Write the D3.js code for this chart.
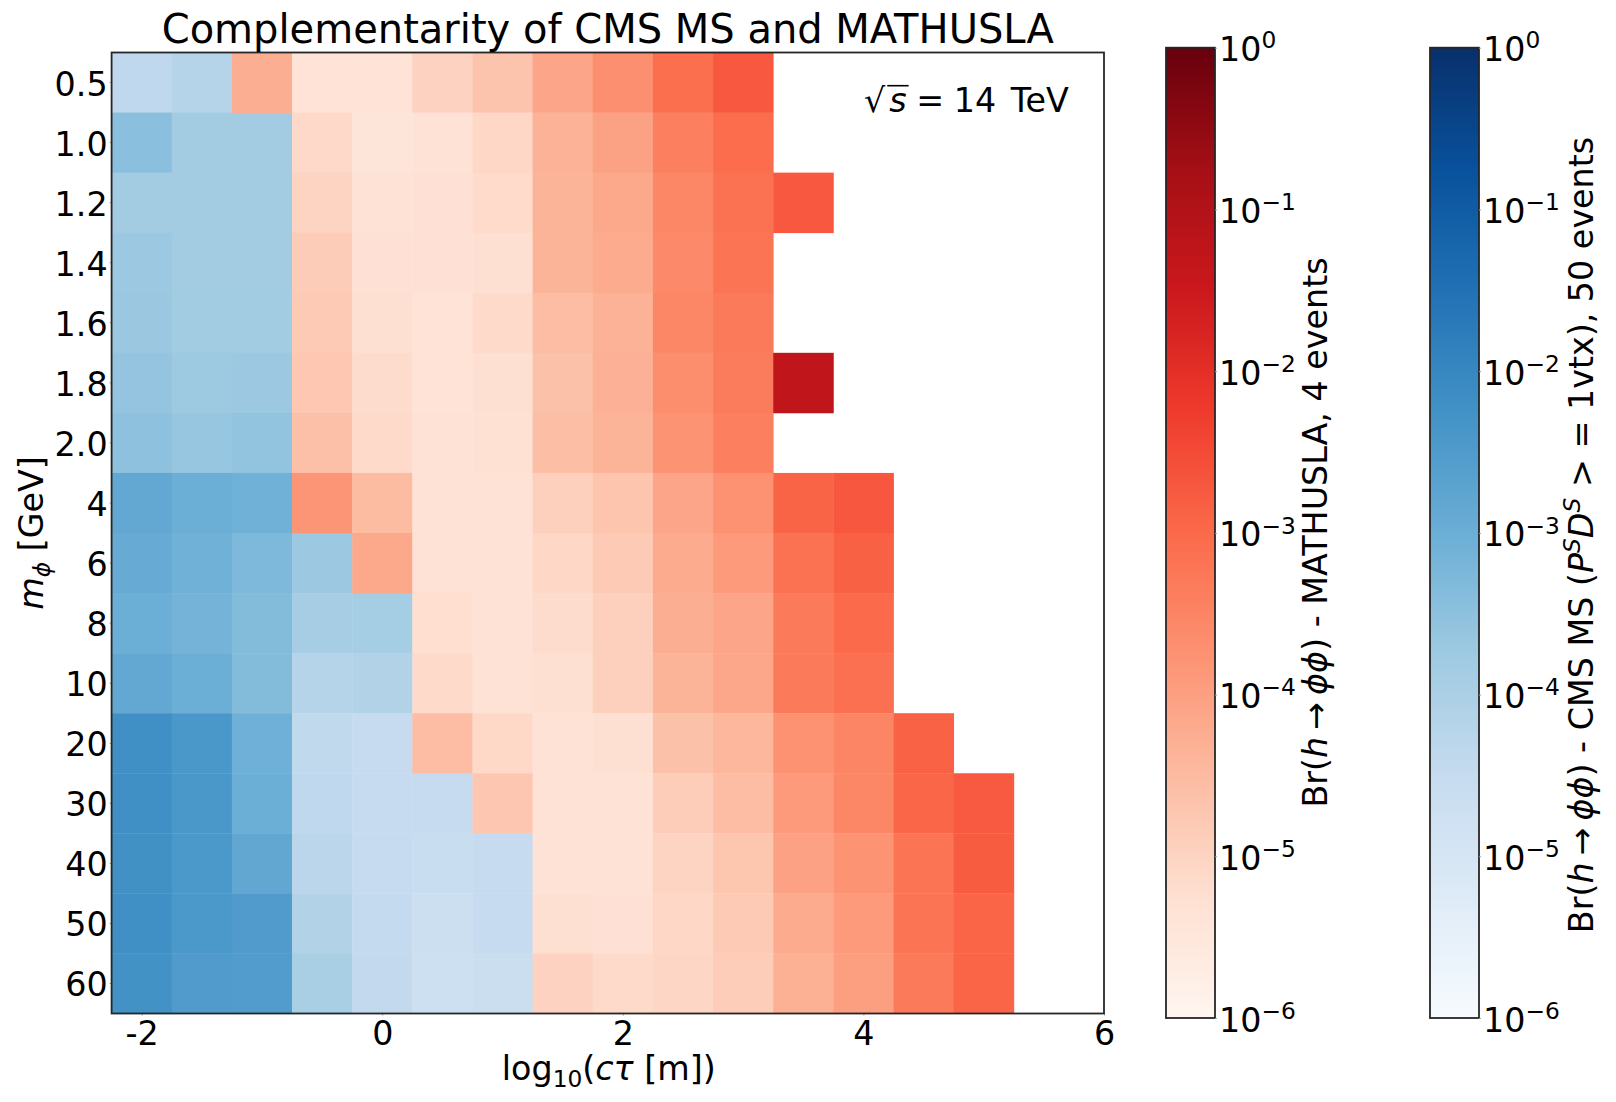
<!DOCTYPE html>
<html>
<head>
<meta charset="utf-8">
<script src="https://cdn.jsdelivr.net/npm/d3@7"></script>
<style>
  html, body { margin: 0; padding: 0; background: #fff; }
  text { font-family: "DejaVu Sans"; fill: #000; }
</style>
</head>
<body>
<div id="chart"></div>
<script>
// log10(c tau [m]) of each column
const ctauValues = [-2, -1.5, -1, -0.5, 0, 0.5, 1, 1.5, 2, 2.5, 3, 3.5, 4, 4.5, 5];
const massLabels = ['0.5','1.0','1.2','1.4','1.6','1.8','2.0','4','6','8','10','20','30','40','50','60'];
const xTickValues = [-2, 0, 2, 4, 6];
const colorbarExponents = [0, -1, -2, -3, -4, -5, -6];

// log10(Br), _ = cell not filled by this series
const _ = null;
const cmsExp = [
  [-4.38,-4.2,_,_,_,_,_,_,_,_,_,_,_,_,_],
  [-3.45,-3.85,-3.85,_,_,_,_,_,_,_,_,_,_,_,_],
  [-3.85,-3.85,-3.85,_,_,_,_,_,_,_,_,_,_,_,_],
  [-3.72,-3.85,-3.85,_,_,_,_,_,_,_,_,_,_,_,_],
  [-3.7,-3.82,-3.82,_,_,_,_,_,_,_,_,_,_,_,_],
  [-3.6,-3.75,-3.72,_,_,_,_,_,_,_,_,_,_,_,_],
  [-3.5,-3.65,-3.58,_,_,_,_,_,_,_,_,_,_,_,_],
  [-2.85,-3.0,-3.08,_,_,_,_,_,_,_,_,_,_,_,_],
  [-2.93,-3.08,-3.28,-3.72,_,_,_,_,_,_,_,_,_,_,_],
  [-3.0,-3.15,-3.35,-3.9,-3.88,_,_,_,_,_,_,_,_,_,_],
  [-2.85,-3.0,-3.35,-4.2,-4.12,_,_,_,_,_,_,_,_,_,_],
  [-2.2,-2.4,-3.05,-4.4,-4.5,_,_,_,_,_,_,_,_,_,_],
  [-2.2,-2.4,-3.0,-4.38,-4.5,-4.5,_,_,_,_,_,_,_,_,_],
  [-2.22,-2.42,-2.82,-4.3,-4.5,-4.6,-4.5,_,_,_,_,_,_,_,_],
  [-2.2,-2.42,-2.5,-4.12,-4.47,-4.7,-4.5,_,_,_,_,_,_,_,_],
  [-2.25,-2.5,-2.52,-3.95,-4.45,-4.72,-4.62,_,_,_,_,_,_,_,_]
];
const mathuslaExp = [
  [_,_,-4.26,-5.36,-5.36,-4.97,-4.68,-4.1,-3.7,-3.1,-2.72,_,_,_,_],
  [_,_,_,-5.11,-5.43,-5.32,-5.07,-4.34,-4.04,-3.4,-3.05,_,_,_,_],
  [_,_,_,-5.0,-5.32,-5.3,-5.15,-4.38,-4.15,-3.55,-3.15,-2.72,_,_,_],
  [_,_,_,-4.85,-5.3,-5.3,-5.25,-4.38,-4.2,-3.58,-3.2,_,_,_,_],
  [_,_,_,-4.8,-5.25,-5.35,-5.12,-4.55,-4.33,-3.55,-3.3,_,_,_,_],
  [_,_,_,-4.75,-5.17,-5.35,-5.25,-4.62,-4.32,-3.68,-3.33,-1.28,_,_,_],
  [_,_,_,-4.6,-5.12,-5.32,-5.27,-4.58,-4.38,-3.76,-3.4,_,_,_,_],
  [_,_,_,-3.8,-4.52,-5.32,-5.33,-4.93,-4.7,-4.1,-3.75,-2.9,-2.7,_,_],
  [_,_,_,_,-4.15,-5.32,-5.33,-5.07,-4.8,-4.2,-3.9,-3.15,-2.85,_,_],
  [_,_,_,_,_,-5.22,-5.33,-5.17,-4.93,-4.27,-4.1,-3.3,-3.0,_,_],
  [_,_,_,_,_,-5.13,-5.33,-5.25,-4.93,-4.38,-4.13,-3.3,-3.12,_,_],
  [_,_,_,_,_,-4.55,-5.1,-5.33,-5.25,-4.63,-4.42,-3.75,-3.5,-2.88,_],
  [_,_,_,_,_,_,-4.73,-5.33,-5.33,-4.87,-4.55,-3.9,-3.55,-2.95,-2.75],
  [_,_,_,_,_,_,_,-5.33,-5.33,-5.0,-4.72,-4.03,-3.76,-3.2,-2.78],
  [_,_,_,_,_,_,_,-5.25,-5.3,-5.07,-4.8,-4.2,-3.9,-3.2,-2.92],
  [_,_,_,_,_,_,_,-4.97,-5.13,-5.05,-4.87,-4.3,-3.97,-3.3,-2.92]
];

const redStops = ['#fff5f0','#fee0d2','#fcbba1','#fc9272','#fb6a4a','#ef3b2c','#cb181d','#a50f15','#67000d'];
const blueStops = ['#f7fbff','#deebf7','#c6dbef','#9ecae1','#6baed6','#4292c6','#2171b5','#08519c','#08306b'];

const width = 1616;
const height = 1102;
const plot = { left: 111.6, right: 1104, top: 52.5, bottom: 1013.5 };
const frameColour = '#262626';
const fontSize = 33.33;
const smallSize = 23.3;

const svg = d3.select('#chart').append('svg')
  .attr('width', width)
  .attr('height', height)
  .style('display', 'block');

const x = d3.scaleLinear().domain([-2.25, 6]).range([plot.left, plot.right]);
const y = d3.scaleBand().domain(massLabels).range([plot.top, plot.bottom]);

// colour runs evenly over the exponents -6..0, like a log norm
function colourScale(stops) {
  return d3.scaleLinear()
    .domain(stops.map((d, i) => -6 + 6 * i / (stops.length - 1)))
    .range(stops);
}
const blues = colourScale(blueStops);
const reds = colourScale(redStops);

function drawCells(matrix, colour) {
  const cells = [];
  matrix.forEach((row, r) => row.forEach((v, c) => {
    if (v !== null) cells.push({ mass: massLabels[r], ctau: ctauValues[c], value: v });
  }));
  svg.append('g').selectAll('rect')
    .data(cells)
    .enter()
    .append('rect')
    .attr('x', d => x(d.ctau - 0.25))
    .attr('y', d => y(d.mass))
    .attr('width', d => x(d.ctau + 0.25) - x(d.ctau - 0.25) + 0.4)
    .attr('height', y.bandwidth() + 0.4)
    .attr('fill', d => colour(d.value));
}
drawCells(cmsExp, blues);
drawCells(mathuslaExp, reds);

// axes
function styleAxis(g) {
  g.select('.domain').remove();
  g.selectAll('.tick line').attr('stroke', '#a0a0a0').attr('stroke-width', 1);
  g.selectAll('.tick text')
    .style('font-family', '"DejaVu Sans"')
    .style('font-size', fontSize + 'px')
    .attr('fill', '#000');
}

svg.append('g')
  .attr('transform', `translate(0,${plot.bottom})`)
  .call(d3.axisBottom(x).tickValues(xTickValues).tickFormat(d => String(d)).tickSize(2).tickPadding(6))
  .call(styleAxis);

svg.append('g')
  .attr('transform', `translate(${plot.left},0)`)
  .call(d3.axisLeft(y).tickSize(2).tickPadding(2))
  .call(styleAxis)
  .call(g => g.selectAll('.tick text').attr('dy', '0.39em'));

svg.append('rect')
  .attr('x', plot.left)
  .attr('y', plot.top)
  .attr('width', plot.right - plot.left)
  .attr('height', plot.bottom - plot.top)
  .attr('fill', 'none')
  .attr('stroke', frameColour)
  .attr('stroke-width', 1.8);

// title and axis labels
svg.append('text')
  .attr('x', (plot.left + plot.right) / 2)
  .attr('y', 42.5)
  .attr('text-anchor', 'middle')
  .style('font-size', '40px')
  .text('Complementarity of CMS MS and MATHUSLA');

const xLabel = svg.append('text')
  .attr('x', (plot.left + plot.right) / 2 + 1)
  .attr('y', 1079.8)
  .attr('text-anchor', 'middle')
  .style('font-size', fontSize + 'px');
xLabel.append('tspan').text('log');
xLabel.append('tspan').attr('dy', 7).style('font-size', smallSize + 'px').text('10');
xLabel.append('tspan').attr('dy', -7).text('(');
xLabel.append('tspan').style('font-style', 'italic').text('c\u03c4');
xLabel.append('tspan').text(' [m])');

const yLabel = svg.append('text')
  .attr('transform', `translate(43,${(plot.top + plot.bottom) / 2}) rotate(-90)`)
  .attr('text-anchor', 'middle')
  .style('font-size', fontSize + 'px');
yLabel.append('tspan').style('font-style', 'italic').text('m');
yLabel.append('tspan').attr('dy', 7).style('font-size', smallSize + 'px').style('font-style', 'italic').text('\u03d5');
yLabel.append('tspan').attr('dy', -7).text(' [GeV]');

// sqrt(s) note, the bar over the s is placed from the measured text
const note = svg.append('text')
  .attr('x', 864)
  .attr('y', 111.7)
  .style('font-size', fontSize + 'px');
note.append('tspan').text('\u221a');
note.append('tspan').attr('dx', 4).style('font-style', 'italic').text('s');
note.append('tspan').attr('dx', -1).text(' = ');
note.append('tspan').attr('dx', -1).text('14 ');
note.append('tspan').attr('dx', 4).text('TeV');
const noteNode = note.node();
svg.append('line')
  .attr('x1', noteNode.getStartPositionOfChar(1).x - 2)
  .attr('x2', noteNode.getEndPositionOfChar(1).x + 2)
  .attr('y1', 85.7)
  .attr('y2', 85.7)
  .attr('stroke', '#000')
  .attr('stroke-width', 1.6);

// colourbars
const defs = svg.append('defs');

function drawColourbar(barX, barWidth, colour, id, labelX, labelY, labelParts) {
  const top = 47.7;
  const bottom = 1018;
  const scale = d3.scaleLog().domain([1e-6, 1]).range([bottom, top]);

  const gradient = defs.append('linearGradient')
    .attr('id', id)
    .attr('x1', 0).attr('x2', 0).attr('y1', 1).attr('y2', 0);
  colour.domain().forEach(v => {
    gradient.append('stop')
      .attr('offset', (v + 6) / 6)
      .attr('stop-color', colour(v));
  });

  svg.append('rect')
    .attr('x', barX)
    .attr('y', top)
    .attr('width', barWidth)
    .attr('height', bottom - top)
    .attr('fill', `url(#${id})`)
    .attr('stroke', frameColour)
    .attr('stroke-width', 1.8);

  const axis = svg.append('g')
    .attr('transform', `translate(${barX + barWidth},0)`)
    .call(d3.axisRight(scale)
      .tickValues(colorbarExponents.map(e => Math.pow(10, e)))
      .tickFormat(() => '10')
      .tickSize(2)
      .tickPadding(2))
    .call(styleAxis);

  axis.selectAll('.tick text')
    .attr('dy', '0.39em')
    .each(function(d) {
      const exponent = Math.round(Math.log10(d));
      d3.select(this).append('tspan')
        .attr('dy', -12.8)
        .style('font-size', smallSize + 'px')
        .text(exponent === 0 ? '0' : '\u2212' + Math.abs(exponent));
    });

  const label = svg.append('text')
    .attr('transform', `translate(${labelX},${labelY}) rotate(-90)`)
    .attr('text-anchor', 'middle')
    .style('font-size', fontSize + 'px');
  label.append('tspan').text('Br(');
  label.append('tspan').style('font-style', 'italic').text('h');
  label.append('tspan').attr('dx', 7).text('\u2192');
  label.append('tspan').attr('dx', 7).style('font-style', 'italic').text('\u03d5\u03d5');
  labelParts.forEach(p => {
    const t = label.append('tspan').text(p.text);
    if (p.italic) t.style('font-style', 'italic');
    if (p.sup) t.attr('dy', -12.8).style('font-size', smallSize + 'px');
    if (p.down) t.attr('dy', 12.8);
    if (p.dx) t.attr('dx', p.dx);
  });
}

drawColourbar(1166, 49, reds, 'redbar', 1327, 532.5, [
  { text: ') - MATHUSLA, 4 events' }
]);
drawColourbar(1430, 49, blues, 'bluebar', 1593, 535, [
  { text: ') - CMS MS (' },
  { text: 'P', italic: true },
  { text: 'S', italic: true, sup: true },
  { text: 'D', italic: true, down: true },
  { text: 'S', italic: true, sup: true },
  { text: ' > = 1vtx), 50 events', down: true }
]);
</script>
</body>
</html>
